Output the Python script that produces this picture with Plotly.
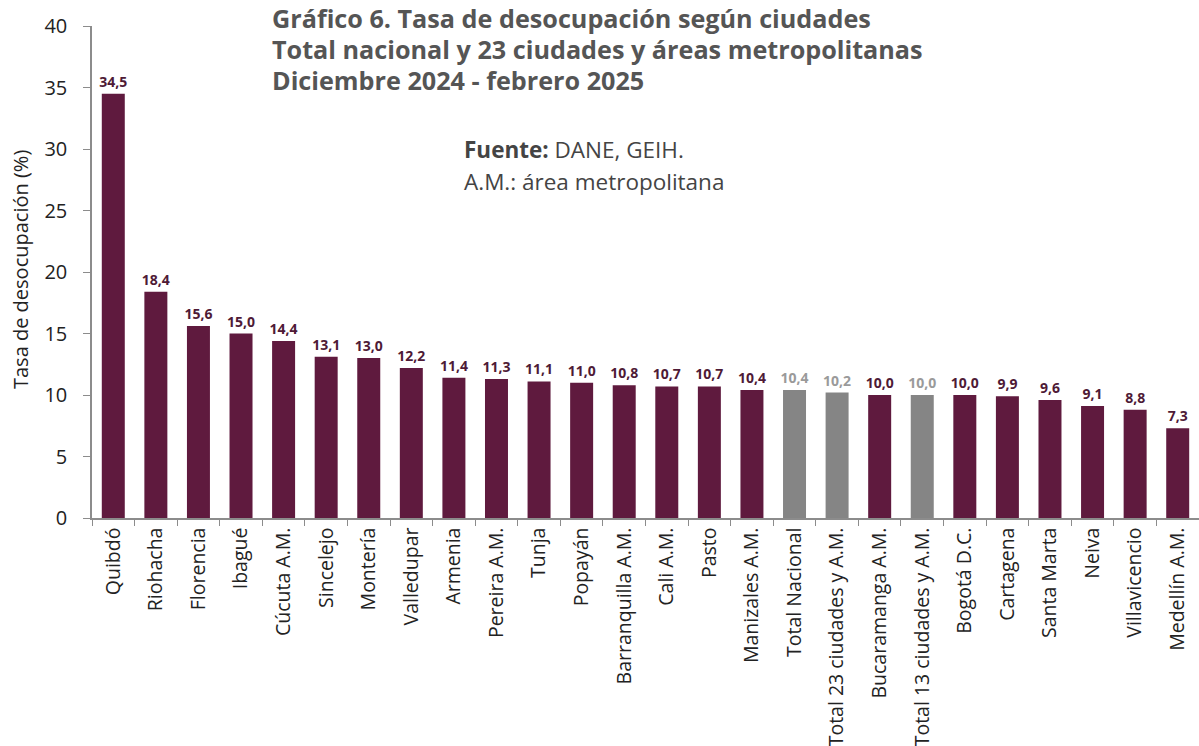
import plotly.graph_objects as go

cities = ["Quibdó", "Riohacha", "Florencia", "Ibagué", "Cúcuta A.M.", "Sincelejo", "Montería",
          "Valledupar", "Armenia", "Pereira A.M.", "Tunja", "Popayán", "Barranquilla A.M.",
          "Cali A.M.", "Pasto", "Manizales A.M.", "Total Nacional", "Total 23 ciudades y A.M.",
          "Bucaramanga A.M.", "Total 13 ciudades y A.M.", "Bogotá D.C.", "Cartagena",
          "Santa Marta", "Neiva", "Villavicencio", "Medellín A.M."]
rates = [34.5, 18.4, 15.6, 15.0, 14.4, 13.1, 13.0, 12.2, 11.4, 11.3, 11.1, 11.0, 10.8,
         10.7, 10.7, 10.4, 10.4, 10.2, 10.0, 10.0, 10.0, 9.9, 9.6, 9.1, 8.8, 7.3]
totals = ["Total Nacional", "Total 23 ciudades y A.M.", "Total 13 ciudades y A.M."]
title_lines = ["Gráfico 6. Tasa de desocupación según ciudades",
               "Total nacional y 23 ciudades y áreas metropolitanas",
               "Diciembre 2024 - febrero 2025"]
note_lines = ["<b>Fuente:</b> DANE, GEIH.", "A.M.: área metropolitana"]

MAROON = "#5f1a3e"
GRAY = "#858585"
bar_colors = [GRAY if c in totals else MAROON for c in cities]
text_colors = ["#9a9a9a" if c in totals else "#4e1a36" for c in cities]
labels = [f"{v:.1f}".replace(".", ",") for v in rates]

W, H = 1199, 746
L, R, T, B = 92, 0, 26, 224
PW, PH = W - L - R, H - T - B

def px(xp):
    return (xp - L) / PW

def py(yp):
    return 1 - (yp - T) / PH

fig = go.Figure(go.Bar(
    x=cities, y=rates, marker=dict(color=bar_colors, line=dict(width=0)),
    text=labels, textposition="outside", cliponaxis=False, constraintext="none",
    textfont=dict(family="Open Sans", size=14, color=text_colors, weight="bold"),
))

annotations = []
for i, line in enumerate(title_lines):
    annotations.append(dict(text=f"<b>{line}</b>", xref="paper", yref="paper",
                            x=px(270), y=py(18 + 31 * i), xanchor="left", yanchor="middle",
                            align="left", showarrow=False,
                            font=dict(family="Open Sans", size=25.2, color="#555555")))
for i, line in enumerate(note_lines):
    annotations.append(dict(text=line, xref="paper", yref="paper",
                            x=px(462), y=py(151 + 32 * i), xanchor="left", yanchor="middle",
                            align="left", showarrow=False,
                            font=dict(family="Open Sans", size=22.5, color="#444444")))
annotations.append(dict(text="Tasa de desocupación (%)", xref="paper", yref="paper",
                        x=px(20), y=py(271), xanchor="center", yanchor="middle",
                        textangle=-90, showarrow=False,
                        font=dict(family="Open Sans", size=20, color="#222222")))

fig.update_layout(
    width=W, height=H,
    margin=dict(l=L, r=R, t=T, b=B, pad=0),
    plot_bgcolor="white", paper_bgcolor="white",
    bargap=0.46, showlegend=False,
    font=dict(family="Open Sans", color="#333333"),
    xaxis=dict(tickangle=-90, tickfont=dict(size=19.5, color="#222222"),
               showline=True, linecolor="#8c8c8c", linewidth=1.5,
               ticks="outside", tickson="boundaries", ticklen=6, tickcolor="#8c8c8c",
               showgrid=False),
    yaxis=dict(range=[0, 40], dtick=5, tickfont=dict(size=20, color="#222222"),
               showline=True, linecolor="#8c8c8c", linewidth=1.5,
               ticks="outside", ticklen=7, tickcolor="#8c8c8c", showgrid=False, zeroline=False,
               ticklabelstandoff=12),
    annotations=annotations,
)

fig.write_html("out.html", config={"displayModeBar": False},
               post_script="document.body.style.margin='0px';")
